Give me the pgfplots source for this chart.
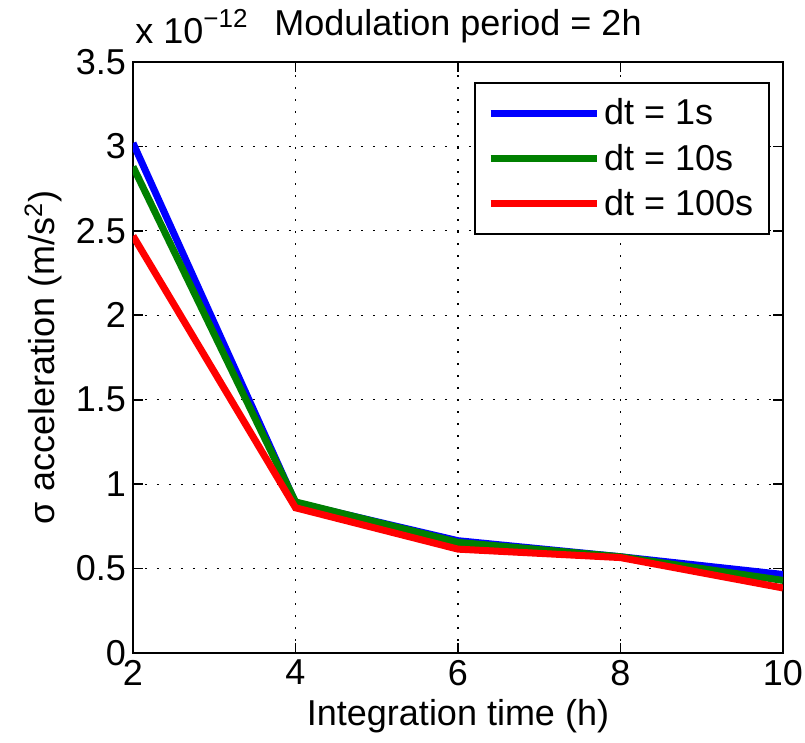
\documentclass[border=0pt]{standalone}
\usepackage{fontspec}
\setmainfont{Liberation Sans}
\usepackage{pgfplots}
\pgfplotsset{compat=1.18}

\definecolor{mgreen}{rgb}{0,0.5,0}

\begin{document}
\begin{tikzpicture}
\begin{axis}[
    scale only axis,
    width=325pt, height=295.5pt,
    xmin=2, xmax=10, ymin=0, ymax=3.5,
    xtick={2,4,6,8,10},
    ytick={0,0.5,1,1.5,2,2.5,3,3.5},
    font=\fontsize{18}{21}\selectfont,
    /pgf/number format/assume math mode=true,
    tick align=inside,
    major tick length=5pt,
    axis line style={line width=0.8pt},
    every tick/.style={black, line width=0.8pt},
    grid=major,
    grid style={black, line width=0.6pt, dash pattern=on 1pt off 5pt},
    clip mode=individual,
    xlabel={Integration time (h)},
    ylabel={σ acceleration (m/s\textsuperscript{2})},
    title={Modulation period = 2h},
    title style={yshift=0pt},
    legend style={at={(rel axis cs:0.98,0.966)}, anchor=north east,
        draw=black, line width=0.8pt, inner xsep=6pt, inner ysep=6pt,
        row sep=4pt, font=\fontsize{18}{21}\selectfont, cells={anchor=west}},
    legend image code/.code={\draw[#1] (0pt,0pt) -- (53pt,0pt);},
]
    \addplot[blue, line width=3.5pt] coordinates {(2,3.02) (4,0.89) (6,0.665) (8,0.57) (10,0.465)};
    \addplot[mgreen, line width=3.5pt] coordinates {(2,2.88) (4,0.895) (6,0.655) (8,0.57) (10,0.43)};
    \addplot[red, line width=3.5pt] coordinates {(2,2.47) (4,0.86) (6,0.615) (8,0.565) (10,0.385)};
    \legend{dt = 1s, dt = 10s, dt = 100s}
    \node[anchor=base west, inner sep=0pt, xshift=1pt, yshift=9pt] at (rel axis cs:0,1) {x 10\raisebox{8pt}{\fontsize{13}{15}\selectfont −12}};
\end{axis}
\pgfresetboundingbox
\path (-66.5pt,-45pt) rectangle (336pt,326.5pt);
\end{tikzpicture}
\end{document}
